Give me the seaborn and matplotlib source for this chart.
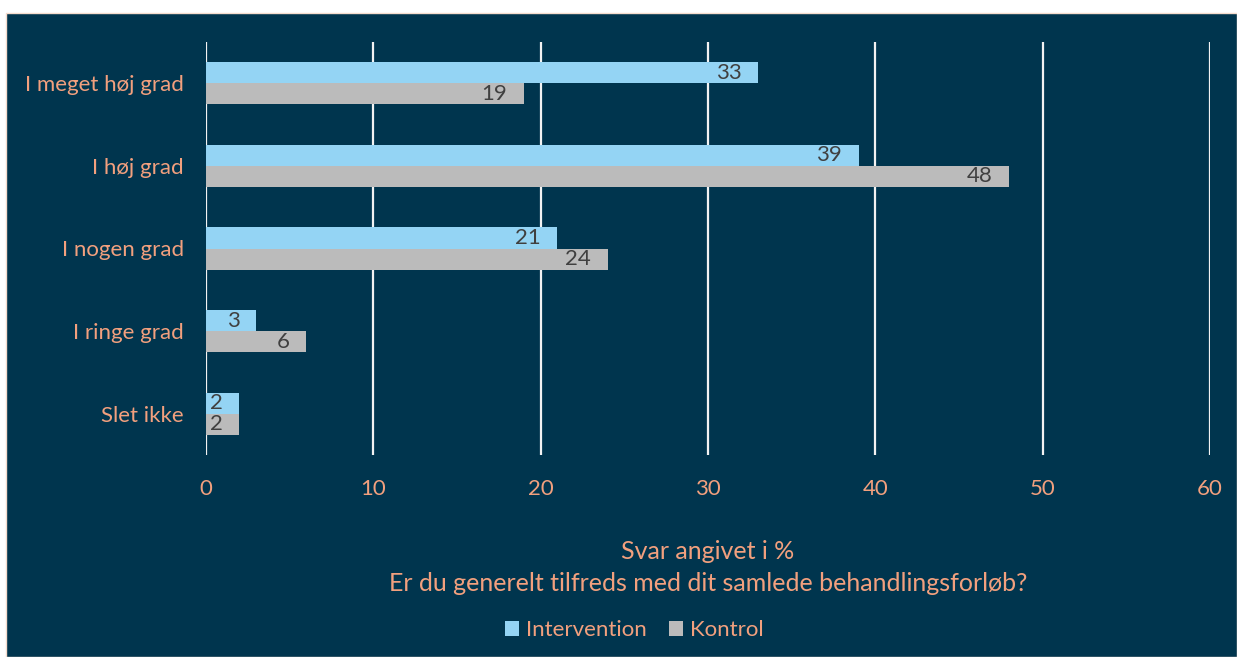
import matplotlib
matplotlib.use("Agg")
import matplotlib.pyplot as plt
from matplotlib.patches import Rectangle, Patch
import seaborn as sns
import pandas as pd

categories = ["I meget høj grad", "I høj grad", "I nogen grad", "I ringe grad", "Slet ikke"]
intervention = [33, 39, 21, 3, 2]
kontrol = [19, 48, 24, 6, 2]
series_names = ["Intervention", "Kontrol"]
x_ticks = [0, 10, 20, 30, 40, 50, 60]
title_lines = ["Svar angivet i %", "Er du generelt tilfreds med dit samlede behandlingsforløb?"]

BG = "#00354E"
TXT = "#F2A07E"
BLUE = "#94D4F4"
GRAY = "#BBBBBB"
LBL = "#404040"

df = pd.DataFrame({
    "kategori": categories * 2,
    "serie": [series_names[0]] * len(categories) + [series_names[1]] * len(categories),
    "pct": intervention + kontrol,
})

sns.set_theme(style="white")
plt.rcParams["font.family"] = ["Lato", "DejaVu Sans"]

W, H = 1237, 657
fig = plt.figure(figsize=(W / 100, H / 100), dpi=100, facecolor="white")
# dark panel behind the chart
fig.patches.append(Rectangle((6 / W, 0), 1 - 6 / W, (H - 13) / H,
                             transform=fig.transFigure, facecolor=BG,
                             edgecolor="#F6DCCD", linewidth=1.0, zorder=-10))

ax = fig.add_axes([206 / W, (H - 455) / H, (1210 - 206) / W, (455 - 42) / H])
ax.set_zorder(1)
ax.set_facecolor("none")

sns.barplot(data=df, y="kategori", x="pct", hue="serie", orient="h",
            order=categories, hue_order=series_names,
            palette=[BLUE, GRAY], width=0.51, gap=0, saturation=1,
            edgecolor="none", linewidth=0, ax=ax, legend=False)

# value labels at the inside end of each bar
for cont in ax.containers:
    for bar in cont:
        w = bar.get_width()
        y = bar.get_y() + bar.get_height() / 2
        ax.annotate(f"{w:.0f}", xy=(w, y), xytext=(-12, 0), textcoords="offset points",
                    ha="right", va="center", fontsize=16, color=LBL)

ax.set_xlim(0, 60)
ax.set_ylim(4.5, -0.5)
ax.set_xticks(x_ticks)
ax.xaxis.grid(True, color="#F2F2F2", linewidth=1.6)
ax.set_axisbelow(True)
for s in ax.spines.values():
    s.set_visible(False)
ax.tick_params(axis="x", colors=TXT, labelsize=16, length=0, pad=17)
ax.tick_params(axis="y", colors=TXT, labelsize=16, length=0, pad=16)
ax.set_ylabel("")
ax.set_xlabel("")

# two-line axis title under the plot
cx = (206 + 1210) / 2 / W
for line, base in zip(title_lines, [559, 591]):
    fig.text(cx, 1 - base / H, line, ha="center", va="baseline", fontsize=18, color=TXT)

handles = [Patch(facecolor=BLUE, edgecolor="none"), Patch(facecolor=GRAY, edgecolor="none")]
fig.legend(handles, series_names, loc="center", bbox_to_anchor=(634 / W, 1 - 630 / H),
           ncol=2, frameon=False, fontsize=16, labelcolor=TXT,
           handlelength=0.65, handleheight=0.65, handletextpad=0.3, columnspacing=1.0)

fig.savefig("out.png", dpi=100, facecolor=fig.get_facecolor())
